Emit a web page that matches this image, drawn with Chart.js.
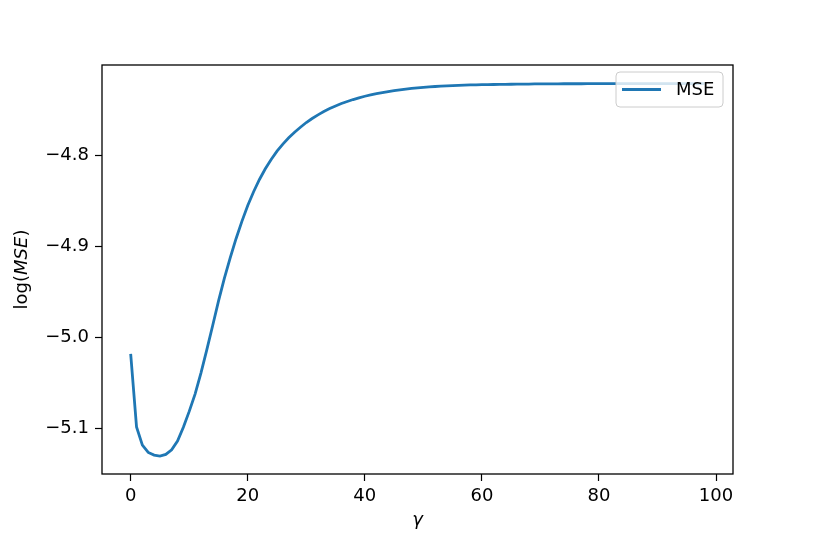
<!DOCTYPE html>
<html>
<head>
<meta charset="utf-8">
<script src="https://cdn.jsdelivr.net/npm/chart.js@4"></script>
<style>
  html, body { margin: 0; padding: 0; background: #fff; }
  #wrap { width: 814px; height: 543px; }
</style>
</head>
<body>
<div id="wrap"><canvas id="myChart" width="814" height="543"></canvas></div>
<script>
// gamma values (x) and log(MSE)
const gamma = [
  0, 1, 2, 3, 4, 5, 6, 7, 8, 9, 10, 11, 12, 13, 14, 15, 16, 17, 18, 19,
  20, 21, 22, 23, 24, 25, 26, 27, 28, 29, 30, 31, 32, 33, 34, 35, 36, 37, 38, 39,
  40, 41, 42, 43, 44, 45, 46, 47, 48, 49, 50, 51, 52, 53, 54, 55, 56, 57, 58, 59,
  60, 61, 62, 63, 64, 65, 66, 67, 68, 69, 70, 71, 72, 73, 74, 75, 76, 77, 78, 79,
  80, 81, 82, 83, 84, 85, 86, 87, 88, 89, 90, 91, 92, 93, 94, 95, 96, 97, 98
];
const logMse = [
  -5.018, -5.098, -5.118, -5.126, -5.129, -5.1300, -5.1282, -5.1232, -5.1135, -5.0985,
  -5.0810, -5.0620, -5.0390, -5.0135, -4.9870, -4.9600, -4.9350, -4.9125, -4.8915, -4.8725,
  -4.8550, -4.8400, -4.8265, -4.8148, -4.8045, -4.7955, -4.7877, -4.7808, -4.7747, -4.7692,
  -4.7640, -4.7596, -4.7556, -4.7520, -4.7487, -4.7458, -4.7432, -4.7409, -4.7388, -4.7369,
  -4.7352, -4.7337, -4.7323, -4.7311, -4.7300, -4.7290, -4.7281, -4.7273, -4.7266, -4.7260,
  -4.7254, -4.7249, -4.7245, -4.7241, -4.7238, -4.7235, -4.7232, -4.7230, -4.7228, -4.7226,
  -4.7225, -4.7224, -4.7223, -4.7222, -4.7221, -4.7220, -4.7219, -4.7218, -4.7218, -4.7217,
  -4.7217, -4.7216, -4.7216, -4.7216, -4.7215, -4.7215, -4.7215, -4.7215, -4.7214, -4.7214,
  -4.7214, -4.7214, -4.7214, -4.7214, -4.7214, -4.7214, -4.7214, -4.7214, -4.7214, -4.7213,
  -4.7213, -4.7213, -4.7213, -4.7213, -4.7213, -4.7213, -4.7213, -4.7213, -4.7213
];
const xTicks = [0, 20, 40, 60, 80, 100];
const yTicks = [-5.1, -5.0, -4.9, -4.8];
const seriesName = "MSE";

const FONT = "DejaVu Sans";
const BLUE = "#1f77b4";

// frame, axis titles and legend box (matplotlib look)
const extras = {
  id: "extras",
  afterDatasetsDraw(chart) {
    const ctx = chart.ctx;
    const a = chart.chartArea;
    ctx.save();
    ctx.strokeStyle = "#000";
    ctx.lineWidth = 1.3;
    ctx.strokeRect(a.left, a.top, a.right - a.left, a.bottom - a.top);

    // legend
    const lx = a.right - 117, ly = a.top + 7, lw = 107, lh = 35, r = 4;
    ctx.beginPath();
    ctx.roundRect(lx, ly, lw, lh, r);
    ctx.fillStyle = "rgba(255,255,255,0.8)";
    ctx.fill();
    ctx.strokeStyle = "#cccccc";
    ctx.lineWidth = 1;
    ctx.stroke();
    ctx.beginPath();
    ctx.moveTo(lx + 6, ly + lh / 2);
    ctx.lineTo(lx + 45, ly + lh / 2);
    ctx.strokeStyle = BLUE;
    ctx.lineWidth = 2.8;
    ctx.stroke();
    ctx.fillStyle = "#000";
    ctx.font = "18px '" + FONT + "'";
    ctx.textBaseline = "middle";
    ctx.textAlign = "left";
    ctx.fillText(seriesName, lx + 60, ly + lh / 2 + 1);

    // x title
    ctx.font = "italic 18px '" + FONT + "'";
    ctx.textAlign = "center";
    ctx.fillText("γ", (a.left + a.right) / 2, 520);

    // y title: log(MSE) with italic MSE
    const parts = [["log(", ""], ["MSE", "italic "], [")", ""]];
    let total = 0;
    parts.forEach(p => { ctx.font = p[1] + "18px '" + FONT + "'"; total += ctx.measureText(p[0]).width; });
    ctx.translate(22, (a.top + a.bottom) / 2);
    ctx.rotate(-Math.PI / 2);
    ctx.textAlign = "left";
    let x = -total / 2;
    parts.forEach(p => {
      ctx.font = p[1] + "18px '" + FONT + "'";
      ctx.fillText(p[0], x, 0);
      x += ctx.measureText(p[0]).width;
    });
    ctx.restore();
  }
};

const ctx = document.getElementById("myChart").getContext("2d");
const chart = new Chart(ctx, {
  type: "line",
  data: {
    datasets: [
      {
        label: seriesName,
        data: gamma.map((g, i) => ({ x: g, y: logMse[i] })),
        borderColor: BLUE,
        borderWidth: 2.8,
        pointRadius: 0,
        fill: false,
        tension: 0,
      },
    ],
  },
  options: {
    responsive: false,
    animation: false,
    devicePixelRatio: 1,
    layout: { padding: { top: 65, right: 81, left: 0, bottom: 0 } },
    plugins: {
      legend: { display: false },
      tooltip: { enabled: false },
    },
    scales: {
      x: {
        type: "linear",
        min: -4.9,
        max: 102.9,
        afterBuildTicks: (s) => { s.ticks = xTicks.map(v => ({ value: v })); },
        afterFit: (s) => { s.height = 69; },
        grid: { drawOnChartArea: false, drawTicks: true, tickLength: 7, tickWidth: 1.2, color: "#000" },
        border: { display: false },
        ticks: {
          color: "#000",
          padding: 5,
          maxRotation: 0,
          font: { family: FONT, size: 18 },
          callback: (v) => String(v),
        },
      },
      y: {
        type: "linear",
        min: -5.1497,
        max: -4.7009,
        afterBuildTicks: (s) => { s.ticks = yTicks.map(v => ({ value: v })); },
        afterFit: (s) => { s.width = 102; },
        grid: { drawOnChartArea: false, drawTicks: true, tickLength: 7, tickWidth: 1.2, color: "#000" },
        border: { display: false },
        ticks: {
          color: "#000",
          padding: 6,
          font: { family: FONT, size: 18 },
          callback: (v) => (v < 0 ? "\u2212" : "") + Math.abs(v).toFixed(1),
        },
      },
    },
  },
  plugins: [extras],
});
</script>
</body>
</html>
